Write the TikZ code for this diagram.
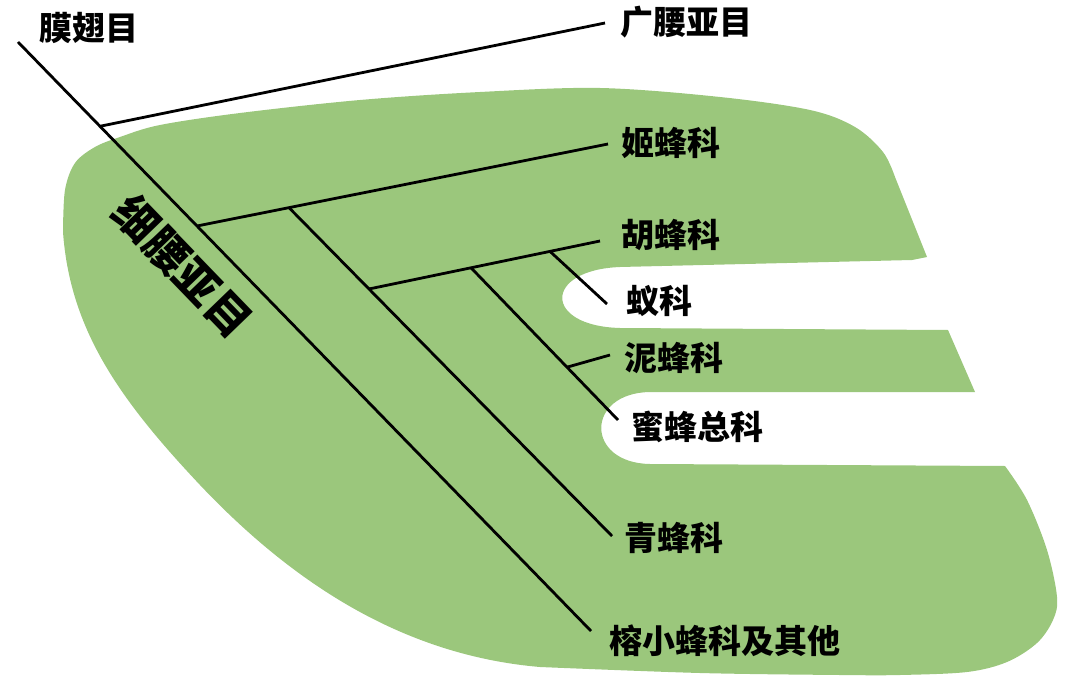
\documentclass[tikz,border=0pt]{standalone}
\usepackage{fontspec}
\newfontfamily\cjk{Noto Sans CJK SC}
\usetikzlibrary{calc}
\definecolor{waspGreen}{HTML}{9BC77C}

\begin{document}
\begin{tikzpicture}[x=0.5pt, y=-0.5pt,
    branch/.style={line width=1.4pt, black},
    taxon/.style={anchor=west, inner sep=0pt, font=\cjk\bfseries\fontsize{16.5}{18}\selectfont}]
  \useasboundingbox (0,0) rectangle (1080,695);
  % green background blob
  \fill[waspGreen] plot[smooth, tension=0.55] coordinates {(63,232) (65,190) (75,163) (95,147) (120,137) (160,125) (240,113) (360,100) (480,92) (600,88) (720,97) (810,110) (855,127) (883,152) (895,177)}
    -- (927,257) -- (912,260) -- (620,267)
    .. controls (543,270) and (543,326) .. (620,328)
    -- (948,330) -- (975,392) -- (650,392)
    .. controls (585,393) and (585,463) .. (650,464)
    -- (1005,466)
    -- plot[smooth, tension=0.55] coordinates {(1005,466) (1027,500) (1047,550) (1057,597) (1053,620) (1037,643) (1007,662) (967,672) (900,675) (840,675) (700,673) (540,667)}
    .. controls (400,655) and (290,580) .. (200,485)
    .. controls (120,400) and (70,330) .. (63,232)
    -- cycle;
  % tree tips
  \coordinate (root)    at (18,42);
  \coordinate (tipFig)  at (591,631);
  \coordinate (tipSym)  at (605,23);
  \coordinate (tipIch)  at (608,144);
  \coordinate (tipChr)  at (612,536);
  \coordinate (tipVes)  at (600,241);
  \coordinate (tipApo)  at (618,420);
  \coordinate (tipFor)  at (607,304);
  \coordinate (tipSph)  at (610,355);
  % junctions
  \coordinate (jSym) at ($(root)!0.1431!(tipFig)$);
  \coordinate (jIch) at ($(root)!0.3124!(tipFig)$);
  \coordinate (jChr) at ($(jIch)!0.2238!(tipIch)$);
  \coordinate (jVes) at ($(jChr)!0.2477!(tipChr)$);
  \coordinate (jApo) at ($(jVes)!0.4416!(tipVes)$);
  \coordinate (jFor) at ($(jVes)!0.7835!(tipVes)$);
  \coordinate (jSph) at ($(jApo)!0.653!(tipApo)$);
  % branches
  \draw[branch] (root) -- (tipFig);
  \draw[branch] (jSym) -- (tipSym);
  \draw[branch] (jIch) -- (tipIch);
  \draw[branch] (jChr) -- (tipChr);
  \draw[branch] (jVes) -- (tipVes);
  \draw[branch] (jApo) -- (tipApo);
  \draw[branch] (jFor) -- (tipFor);
  \draw[branch] (jSph) -- (tipSph);
  % labels
  \node[taxon] (hymenoptera) at (39,28)  {膜翅目};
  \node[taxon] (symphyta)    at (620,22) {广腰亚目};
  \node[taxon] (ichneumon)   at (621,143) {姬蜂科};
  \node[taxon] (vespidae)    at (621,235) {胡蜂科};
  \node[taxon] (formicidae)  at (626,301) {蚁科};
  \node[taxon] (sphecidae)   at (624,358) {泥蜂科};
  \node[taxon] (apoidea)     at (631,427) {蜜蜂总科};
  \node[taxon] (chrysididae) at (624,538) {青蜂科};
  \node[taxon] (agaonidae)   at (609,641) {榕小蜂科及其他};
  \node[font=\cjk\bfseries\fontsize{22}{24}\selectfont, rotate=-46, inner sep=0pt] (apocrita) at (183,266) {细腰亚目};
\end{tikzpicture}
\end{document}
